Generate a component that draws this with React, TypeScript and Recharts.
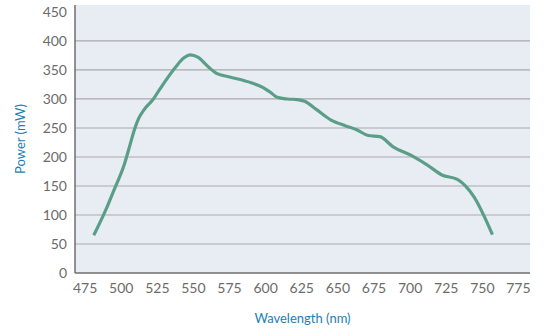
import { LineChart, Line, XAxis, YAxis, CartesianGrid } from 'recharts'

const wavelengths = [
  481, 489, 495, 502, 506, 509, 512, 516, 522, 527, 538, 543, 548, 553, 560, 566, 575, 590,
  598, 603, 608, 615, 622, 627, 635, 645, 655, 663, 671, 679, 688, 702, 712, 722, 733, 744, 757,
]
const power = [
  65, 107, 143, 186, 220, 246, 266, 282, 299, 318, 356, 370, 376, 372, 356, 344, 338, 328,
  320, 312, 303, 300, 299, 296, 282, 264, 254, 247, 237, 235, 218, 201, 186, 169, 161, 132, 66,
]
const xTicks = [475, 500, 525, 550, 575, 600, 625, 650, 675, 700, 725, 750, 775]
const yTicks = [0, 50, 100, 150, 200, 250, 300, 350, 400, 450]

const data = wavelengths.map((w, i) => ({ wavelength: w, power: power[i] }))

const FONT = 'Lato, "DejaVu Sans", sans-serif'
const TICK = { fill: '#6b6b6b', fontSize: 14, fontFamily: FONT }
const LABEL_COLOR = '#1c7fb6'

export default function App() {
  return (
    <div style={{ position: 'absolute', left: 0, top: 0, width: 546, height: 329, background: '#fff' }}>
      <LineChart width={546} height={329} data={data} margin={{ top: 5, right: 16, bottom: 0, left: 0 }}>
        <CartesianGrid
          vertical={false}
          horizontalValues={yTicks.filter((t) => t > 0 && t < 450)}
          stroke="#a9a9ab"
          strokeWidth={1.2}
          fill="#e8edf4"
        />
        <XAxis
          dataKey="wavelength"
          type="number"
          domain={[468, 783]}
          ticks={xTicks}
          tick={TICK}
          tickSize={0}
          tickMargin={10}
          axisLine={{ stroke: '#6e6e6e', strokeWidth: 1.5 }}
          height={56}
          label={{
            value: 'Wavelength (nm)',
            position: 'insideBottom',
            offset: 6,
            fill: LABEL_COLOR,
            fontSize: 13,
            fontFamily: FONT,
          }}
        />
        <YAxis
          type="number"
          domain={[0, 462]}
          ticks={yTicks}
          tick={TICK}
          tickSize={0}
          tickMargin={8}
          axisLine={{ stroke: '#6e6e6e', strokeWidth: 1.5 }}
          width={75}
          label={{
            value: 'Power (mW)',
            angle: -90,
            position: 'insideLeft',
            offset: 20,
            style: { textAnchor: 'middle' },
            fill: LABEL_COLOR,
            fontSize: 13,
            fontFamily: FONT,
          }}
        />
        <Line
          type="monotone"
          dataKey="power"
          stroke="#5b9e88"
          strokeWidth={3.2}
          dot={false}
          isAnimationActive={false}
        />
      </LineChart>
    </div>
  )
}
